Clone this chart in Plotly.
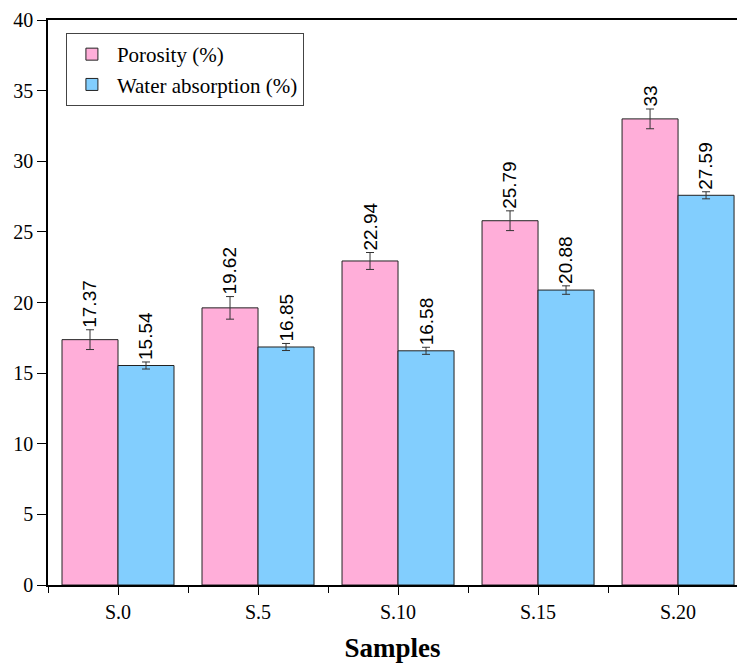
import plotly.graph_objects as go

samples = ["S.0", "S.5", "S.10", "S.15", "S.20"]
porosity = [17.37, 19.62, 22.94, 25.79, 33.0]
porosity_err = [0.7, 0.8, 0.6, 0.7, 0.7]
water = [15.54, 16.85, 16.58, 20.88, 27.59]
water_err = [0.25, 0.25, 0.25, 0.3, 0.25]
porosity_labels = ["17.37", "19.62", "22.94", "25.79", "33"]
water_labels = ["15.54", "16.85", "16.58", "20.88", "27.59"]

FONT = "Times New Roman, Liberation Serif, serif"
LABEL_FONT = "Arial, Liberation Sans, sans-serif"
idx = list(range(len(samples)))

fig = go.Figure()
fig.add_bar(x=idx, y=porosity, name="Porosity (%)",
            marker=dict(color="#FFAED9", line=dict(color="#222", width=1)),
            error_y=dict(type="data", array=porosity_err, color="#333", thickness=1, width=4))
fig.add_bar(x=idx, y=water, name="Water absorption (%)",
            marker=dict(color="#82CEFE", line=dict(color="#222", width=1)),
            error_y=dict(type="data", array=water_err, color="#333", thickness=1, width=4))

anns = []
for i in idx:
    anns.append(dict(x=i - 0.2, y=porosity[i] + porosity_err[i], text=porosity_labels[i],
                     textangle=-90, showarrow=False, yanchor="bottom", xanchor="center",
                     font=dict(family=LABEL_FONT, size=19, color="black"), yshift=0))
    anns.append(dict(x=i + 0.2, y=water[i] + water_err[i], text=water_labels[i],
                     textangle=-90, showarrow=False, yanchor="bottom", xanchor="center",
                     font=dict(family=LABEL_FONT, size=19, color="black"), yshift=0))

fig.update_layout(
    width=737, height=666,
    margin=dict(l=48, r=0, t=20, b=81),
    plot_bgcolor="white", paper_bgcolor="white",
    barmode="group", bargap=0.2, bargroupgap=0,
    font=dict(family=FONT, size=20, color="black"),
    annotations=anns,
    legend=dict(x=0.026, y=0.977, xanchor="left", yanchor="top",
                bgcolor="white", bordercolor="#444", borderwidth=1,
                font=dict(family=FONT, size=21), tracegroupgap=0, itemwidth=40),
    xaxis=dict(range=[-0.5, 4.421], tickmode="array", tickvals=idx, ticktext=samples,
               showline=True, linecolor="black", linewidth=1.5, mirror=True,
               ticks="outside", ticklen=8, tickcolor="black", showgrid=False,
               minor=dict(tickvals=[-0.5, 0.5, 1.5, 2.5, 3.5, 4.5], ticks="outside",
                          ticklen=6, tickcolor="black", showgrid=False),
               title=dict(text="<b>Samples</b>", font=dict(family=FONT, size=27), standoff=16),
               tickfont=dict(family=FONT, size=20)),
    yaxis=dict(range=[0, 40], dtick=5, showline=True, linecolor="black", linewidth=1.5,
               ticks="outside", ticklen=9, tickcolor="black", showgrid=False, zeroline=False,
               tickfont=dict(family=FONT, size=20)),
)

fig.write_html("out.html")
